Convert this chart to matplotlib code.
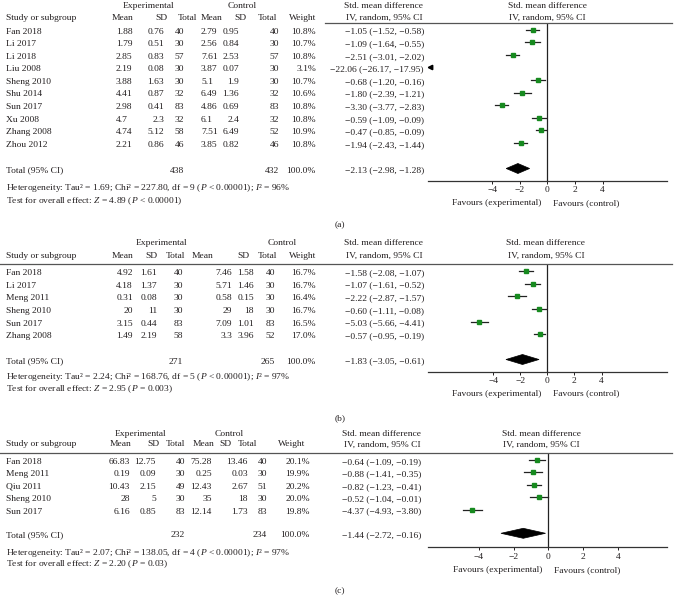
import numpy as np
import matplotlib
matplotlib.use('Agg')
import matplotlib.pyplot as plt
from matplotlib.lines import Line2D
from matplotlib.patches import Polygon

plt.rcParams['font.family'] = ['Liberation Serif', 'DejaVu Serif']
plt.rcParams['mathtext.fontset'] = 'custom'
plt.rcParams['mathtext.rm'] = 'Liberation Serif'
plt.rcParams['mathtext.it'] = 'Liberation Serif:italic'

# ---------------- panel (a)
studies_a = ["Fan 2018", "Li 2017", "Li 2018", "Liu 2008", "Sheng 2010", "Shu 2014",
             "Sun 2017", "Xu 2008", "Zhang 2008", "Zhou 2012"]
exp_mean_a = [1.88, 1.79, 2.85, 2.19, 3.88, 4.41, 2.98, 4.7, 4.74, 2.21]
exp_sd_a = [0.76, 0.51, 0.83, 0.08, 1.63, 0.87, 0.41, 2.3, 5.12, 0.86]
exp_n_a = [40, 30, 57, 30, 30, 32, 83, 32, 58, 46]
ctl_mean_a = [2.79, 2.56, 7.61, 3.87, 5.1, 6.49, 4.86, 6.1, 7.51, 3.85]
ctl_sd_a = [0.95, 0.84, 2.53, 0.07, 1.9, 1.36, 0.69, 2.4, 6.49, 0.82]
ctl_n_a = [40, 30, 57, 30, 30, 32, 83, 32, 52, 46]
weight_a = [10.8, 10.7, 10.8, 3.1, 10.7, 10.6, 10.8, 10.8, 10.9, 10.8]
smd_a = [-1.05, -1.09, -2.51, -22.06, -0.68, -1.80, -3.30, -0.59, -0.47, -1.94]
lo_a = [-1.52, -1.64, -3.01, -26.17, -1.20, -2.39, -3.77, -1.09, -0.85, -2.43]
hi_a = [-0.58, -0.55, -2.02, -17.95, -0.16, -1.21, -2.83, -0.09, -0.09, -1.44]
total_a = [438, 432, -2.13, -2.98, -1.28]
het_a = ["1.69", "227.80", "9", "< 0.00001", "96"]
z_a = ["4.89", "< 0.00001"]

# ---------------- panel (b)
studies_b = ["Fan 2018", "Li 2017", "Meng 2011", "Sheng 2010", "Sun 2017", "Zhang 2008"]
exp_mean_b = [4.92, 4.18, 0.31, 20, 3.15, 1.49]
exp_sd_b = [1.61, 1.37, 0.08, 11, 0.44, 2.19]
exp_n_b = [40, 30, 30, 30, 83, 58]
ctl_mean_b = [7.46, 5.71, 0.58, 29, 7.09, 3.3]
ctl_sd_b = [1.58, 1.46, 0.15, 18, 1.01, 3.96]
ctl_n_b = [40, 30, 30, 30, 83, 52]
weight_b = [16.7, 16.7, 16.4, 16.7, 16.5, 17.0]
smd_b = [-1.58, -1.07, -2.22, -0.60, -5.03, -0.57]
lo_b = [-2.08, -1.61, -2.87, -1.11, -5.66, -0.95]
hi_b = [-1.07, -0.52, -1.57, -0.08, -4.41, -0.19]
total_b = [271, 265, -1.83, -3.05, -0.61]
het_b = ["2.24", "168.76", "5", "< 0.00001", "97"]
z_b = ["2.95", "= 0.003"]

# ---------------- panel (c)
studies_c = ["Fan 2018", "Meng 2011", "Qiu 2011", "Sheng 2010", "Sun 2017"]
exp_mean_c = [66.83, 0.19, 10.43, 28, 6.16]
exp_sd_c = [12.75, 0.09, 2.15, 5, 0.85]
exp_n_c = [40, 30, 49, 30, 83]
ctl_mean_c = [75.28, 0.25, 12.43, 35, 12.14]
ctl_sd_c = [13.46, 0.03, 2.67, 18, 1.73]
ctl_n_c = [40, 30, 51, 30, 83]
weight_c = [20.1, 19.9, 20.2, 20.0, 19.8]
smd_c = [-0.64, -0.88, -0.82, -0.52, -4.37]
lo_c = [-1.09, -1.41, -1.23, -1.04, -4.93]
hi_c = [-0.19, -0.35, -0.41, -0.01, -3.80]
total_c = [232, 234, -1.44, -2.72, -0.16]
het_c = ["2.07", "138.05", "4", "< 0.00001", "97"]
z_c = ["2.20", "= 0.03"]

ticks = [-4, -2, 0, 2, 4]

W, H = 676, 595
FS = 6.8
TC = '#231f20'
GREEN = '#178a1f'

fig = plt.figure(figsize=(W / 100, H / 100), dpi=100)


def fx(x):
    return x / W


def fy(y):
    return 1 - y / H


def txt(x, y, s, ha='left', **kw):
    # y is the visual middle of the text line; draw on a baseline 3 px lower
    fig.text(fx(x), fy(y + 3), s, ha=ha, va='baseline', fontsize=FS, color=TC, **kw)


def m(v):
    return str(v).replace('-', '\u2212')


def ci_str(s, l, h):
    return m(f"{s:.2f} ({l:.2f}, {h:.2f})")


def draw_panel(lay, studies, e_mean, e_sd, e_n, c_mean, c_sd, c_n, weight, smd, lo, hi, total, het, z):
    # headers
    txt(lay['exp_c'], lay['top'], "Experimental", ha='center')
    txt(lay['ctl_c'], lay['top'], "Control", ha='center')
    txt(lay['ci_hdr'], lay['top'], "Std. mean difference", ha='center')
    txt(lay['ci_hdr'], lay['sub'], "IV, random, 95% CI", ha='center')
    txt(lay['plot_hdr'], lay['top'], "Std. mean difference", ha='center')
    txt(lay['plot_hdr'], lay['sub'], "IV, random, 95% CI", ha='center')
    txt(6, lay['sub'], "Study or subgroup")
    for (x, ha), s in zip(lay['hdr'], ["Mean", "SD", "Total", "Mean", "SD", "Total", "Weight"]):
        txt(x, lay['sub'], s, ha=ha)
    fig.add_artist(Line2D([fx(lay['line_x0']), fx(672)], [fy(lay['line'])] * 2,
                          color='#555555', lw=0.9))

    rows = lay['row0'] + lay['dy'] * np.arange(len(studies))
    for i, y in enumerate(rows):
        ty = y + 1
        txt(6, ty, studies[i])
        vals = [e_mean[i], e_sd[i], e_n[i], c_mean[i], c_sd[i], c_n[i], f"{weight[i]:.1f}%"]
        for (x, ha), v in zip(lay['cols'], vals):
            txt(x, ty, str(v), ha=ha)
        txt(lay['ci'][0], ty, ci_str(smd[i], lo[i], hi[i]), ha=lay['ci'][1])

    # totals
    ty = lay['total'] + 1
    txt(6, ty, "Total (95% CI)")
    txt(lay['cols'][2][0], ty, str(total[0]), ha=lay['cols'][2][1])
    txt(lay['cols'][5][0], ty, str(total[1]), ha=lay['cols'][5][1])
    txt(lay['cols'][6][0], ty, "100.0%", ha=lay['cols'][6][1])
    txt(lay['ci'][0], ty, ci_str(total[2], total[3], total[4]), ha=lay['ci'][1])

    txt(6, lay['het'], "Heterogeneity: Tau\u00b2 = %s; Chi\u00b2 = %s, df = %s ($P$ %s); $I$\u00b2 = %s%%"
        % tuple(het))
    txt(6, lay['test'], "Test for overall effect: $Z$ = %s ($P$ %s)" % tuple(z))
    txt(340, lay['label'], lay['name'], ha='center')

    # forest plot axes: y in pixel rows
    axl, axr = 428, 667
    ax = fig.add_axes([fx(axl), fy(lay['axis']), (axr - axl) / W, (lay['axis'] - lay['line']) / H])
    xl = (axl - lay['zero']) / lay['ppu']
    xr = (axr - lay['zero']) / lay['ppu']
    ax.set_xlim(xl, xr)
    ax.set_ylim(lay['axis'], lay['line'])
    ax.patch.set_visible(False)
    for sp in ['top', 'left', 'right']:
        ax.spines[sp].set_visible(False)
    ax.spines['bottom'].set_linewidth(0.9)
    ax.spines['bottom'].set_color('#333333')
    ax.set_yticks([])
    ax.set_xticks(ticks)
    ax.set_xticklabels([m(t) for t in ticks])
    ax.tick_params(axis='x', length=2.5, width=0.7, pad=1.5, labelsize=FS, colors=TC)
    ax.axvline(0, color='#222222', lw=0.9)

    for i, y in enumerate(rows):
        if hi[i] < xl:
            ax.plot(xl + 0.12, y, marker='<', color='k', ms=3.2, clip_on=False)
            continue
        ax.plot([lo[i], hi[i]], [y, y], color='#222222', lw=0.9)
        ax.plot(smd[i], y, marker='s', color=GREEN, ms=3.2, mec=GREEN)

    yt = lay['total']
    h = 5
    ax.add_patch(Polygon([(total[3], yt), (total[2], yt - h), (total[4], yt), (total[2], yt + h)],
                         closed=True, fc='k', ec='k', lw=0.5))

    txt(lay['zero'] - 6, lay['fav'], "Favours (experimental)", ha='right')
    txt(lay['zero'] + 6, lay['fav'], "Favours (control)", ha='left')


R, L = 'right', 'left'
lay_a = dict(name="(a)", top=5, sub=17, line=23, line_x0=325, row0=29.5, dy=12.6, total=168.5,
             axis=180.7, fav=201.7, het=187, test=200, label=224, exp_c=148, ctl_c=242,
             hdr=[(133, R), (167, R), (197, R), (222, R), (246, R), (277, R), (316, R)],
             cols=[(116, L), (164, R), (184, R), (201, L), (239, R), (279, R), (316, R)],
             ci=(424, R), ci_hdr=384, plot_hdr=547, zero=547.3, ppu=13.8)
lay_b = dict(name="(b)", top=242, sub=254.5, line=263.5, line_x0=0, row0=271, dy=12.65, total=359.5,
             axis=371.7, fav=392.5, het=376, test=388, label=417, exp_c=161, ctl_c=282,
             hdr=[(133, R), (157, R), (185, R), (213, R), (250, R), (277, R), (316, R)],
             cols=[(133, R), (157, R), (183, R), (232, R), (254, R), (275, R), (316, R)],
             ci=(345, L), ci_hdr=384, plot_hdr=546, zero=547.3, ppu=13.55)
lay_c = dict(name="(c)", top=433, sub=443.5, line=452.7, line_x0=0, row0=460, dy=12.4, total=533.3,
             axis=547, fav=569.3, het=552, test=563.5, label=590, exp_c=140, ctl_c=229,
             hdr=[(131, R), (160, R), (185, R), (214, R), (232, R), (257, R), (305, R)],
             cols=[(130, R), (156, R), (185, R), (212, R), (248, R), (267, R), (310, R)],
             ci=(342, L), ci_hdr=382, plot_hdr=541, zero=548.3, ppu=17.4)

draw_panel(lay_a, studies_a, exp_mean_a, exp_sd_a, exp_n_a, ctl_mean_a, ctl_sd_a, ctl_n_a,
           weight_a, smd_a, lo_a, hi_a, total_a, het_a, z_a)
draw_panel(lay_b, studies_b, exp_mean_b, exp_sd_b, exp_n_b, ctl_mean_b, ctl_sd_b, ctl_n_b,
           weight_b, smd_b, lo_b, hi_b, total_b, het_b, z_b)
draw_panel(lay_c, studies_c, exp_mean_c, exp_sd_c, exp_n_c, ctl_mean_c, ctl_sd_c, ctl_n_c,
           weight_c, smd_c, lo_c, hi_c, total_c, het_c, z_c)

fig.savefig("out.png", dpi=100, facecolor='white')
